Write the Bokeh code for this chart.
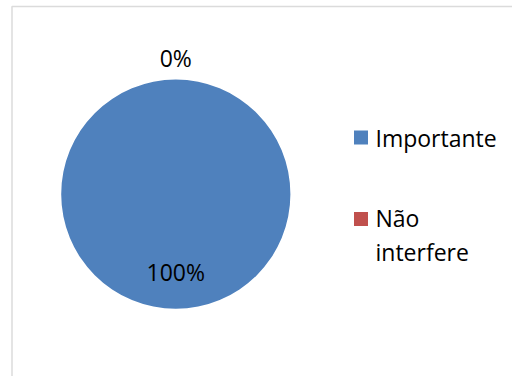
import math
from bokeh.plotting import figure
from bokeh.models import Range1d, BoxAnnotation, ColumnDataSource, CDSView, BooleanFilter
from bokeh.core.properties import value
from bokeh.embed import file_html
from bokeh.resources import INLINE

# ---- data ----
categories = ["Importante", "Não interfere"]
values = [100, 0]
colors = ["#4F81BD", "#C0504D"]
legend_labels = ["Importante", "Não\ninterfere"]

# ---- layout constants (screen px, y measured from top) ----
W, H = 512, 376
CX, CY_TOP, R = 175.3, 193.7, 114.6
CY = H - CY_TOP
FONT = value("Open Sans")
FSIZE = "23px"
LINE_STEP = 32.0
TWO_PI = 2 * math.pi

p = figure(width=W, height=H, x_range=Range1d(0, W), y_range=Range1d(0, H),
           output_backend="svg", toolbar_location=None, min_border=0,
           outline_line_color=None)
p.axis.visible = False
p.grid.visible = False
p.background_fill_color = "white"
p.border_fill_color = "white"

# chart border (only top and left visible in the window)
p.add_layout(BoxAnnotation(left=11.5, right=W + 20, top=H - 6, bottom=-20,
                           fill_alpha=0, line_color="#898989", line_width=1.5))

total = float(sum(values))
fracs = [v / total for v in values]
raw_s, raw_e, cum = [], [], 0.0
for f in fracs:
    raw_s.append(math.pi / 2 - TWO_PI * cum)
    cum += f
    raw_e.append(math.pi / 2 - TWO_PI * cum)
# angles normalised to [0, 2pi)
starts = [round(a % TWO_PI, 9) for a in raw_s]
ends = [round(a % TWO_PI, 9) for a in raw_e]

src = ColumnDataSource(dict(cat=categories, val=values, color=colors,
                            start=starts, end=ends))
view = CDSView(filter=BooleanFilter([v > 0 for v in values]))
p.wedge(x=CX, y=CY, radius=R, start_angle="start", end_angle="end",
        direction="clock", fill_color="color", line_color=None,
        source=src, view=view)

# data labels
lx, ly, lt = [], [], []
for f, s, e in zip(fracs, raw_s, raw_e):
    mid = (s + e) / 2
    k = 0.68 if f >= 0.05 else 1.185
    lx.append(CX + k * R * math.cos(mid))
    ly.append(CY + k * R * math.sin(mid))
    lt.append("%d%%" % round(f * 100))
p.text(x=lx, y=ly, text=lt, text_align="center", text_baseline="middle",
       text_font=FONT, text_font_size=FSIZE, text_color="black")

# legend
LEG_SQ_X = 360.5
LEG_Y_TOP = [137.0, 218.5]
LEG_TXT_X = 375.0
sq_y = [H - y for y in LEG_Y_TOP]
txt_y = [H - (y + (lab.count("\n")) * LINE_STEP / 2) for y, lab in zip(LEG_Y_TOP, legend_labels)]
p.rect(x=[LEG_SQ_X] * len(categories), y=sq_y, width=14, height=14,
       fill_color=colors, line_color=None)
p.text(x=[LEG_TXT_X] * len(categories), y=txt_y, text=legend_labels,
       text_align="left", text_baseline="middle", text_line_height=1.05,
       text_font=FONT, text_font_size=FSIZE, text_color="black")

open("out.html", "w").write(file_html(p, INLINE))
